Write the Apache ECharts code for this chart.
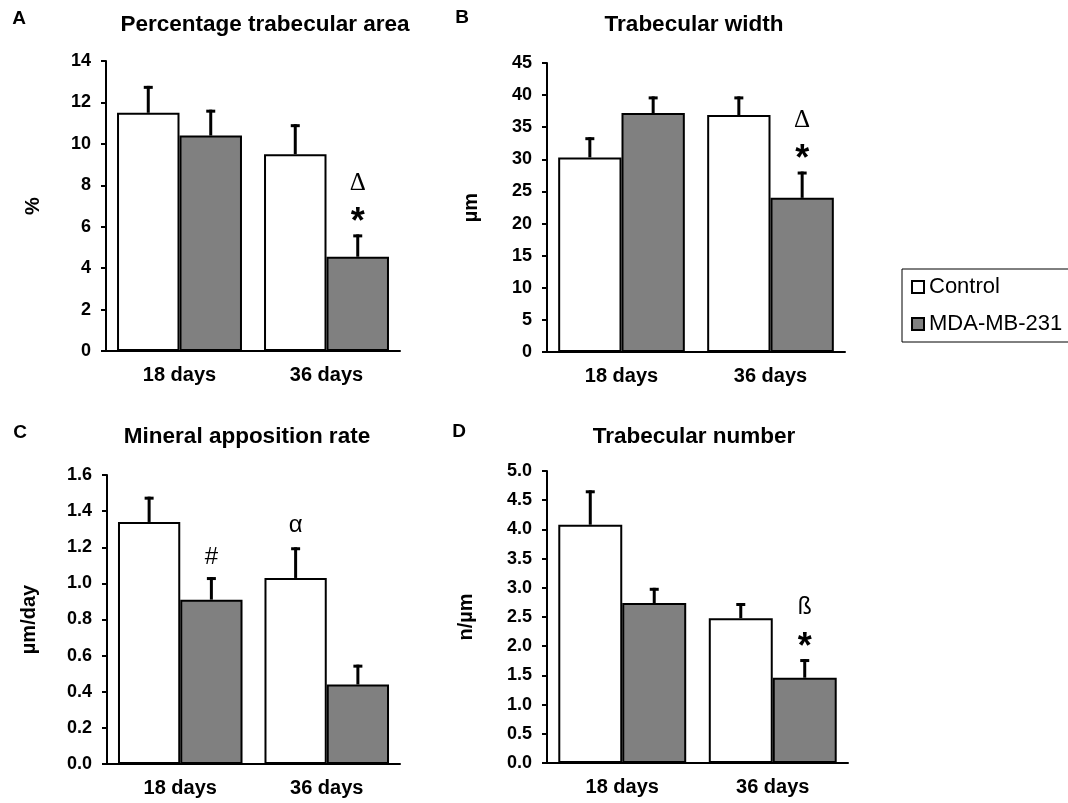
<!DOCTYPE html>
<html>
<head>
<meta charset="utf-8">
<script src="https://cdn.jsdelivr.net/npm/echarts@6/dist/echarts.min.js"></script>
<style>
  html, body { margin: 0; padding: 0; background: #fff; }
  #chart { width: 1068px; height: 803px; }
</style>
</head>
<body>
<div id="chart"></div>
<script>
// ---------- data ----------
const categories = ['18 days', '36 days'];
const seriesNames = ['Control', 'MDA-MB-231'];

// A: Percentage trabecular area (%)
const areaControl = [11.5, 9.5];
const areaControlSem = [1.3, 1.45];
const areaTumor = [10.4, 4.55];
const areaTumorSem = [1.25, 1.08];
const areaControlMarks = [[], []];
const areaTumorMarks = [[], ['*', 'Δ']];
const areaTicks = [0, 2, 4, 6, 8, 10, 12, 14];

// B: Trabecular width (µm)
const widthControl = [30.3, 36.9];
const widthControlSem = [3.15, 2.9];
const widthTumor = [37.2, 24.0];
const widthTumorSem = [2.6, 4.1];
const widthControlMarks = [[], []];
const widthTumorMarks = [[], ['*', 'Δ']];
const widthTicks = [0, 5, 10, 15, 20, 25, 30, 35, 40, 45];

// C: Mineral apposition rate (µm/day)
const marControl = [1.34, 1.03];
const marControlSem = [0.14, 0.17];
const marTumor = [0.91, 0.44];
const marTumorSem = [0.125, 0.11];
const marControlMarks = [[], ['α']];
const marTumorMarks = [['#'], []];
const marTicks = [0.0, 0.2, 0.4, 0.6, 0.8, 1.0, 1.2, 1.4, 1.6];

// D: Trabecular number (n/µm)
const numControl = [4.08, 2.48];
const numControlSem = [0.59, 0.26];
const numTumor = [2.74, 1.46];
const numTumorSem = [0.26, 0.32];
const numControlMarks = [[], []];
const numTumorMarks = [[], ['*', 'ß']];
const numTicks = [0.0, 0.5, 1.0, 1.5, 2.0, 2.5, 3.0, 3.5, 4.0, 4.5, 5.0];

// ---------- styling / layout ----------
const FONT = '"Liberation Sans", Arial, Helvetica, sans-serif';
const GREY = '#808080';
const CAT_GAP = 0.15;

const panels = [
  { letter: 'A', title: 'Percentage trabecular area', yName: '%', nameGap: 63,
    grid: { left: 106, top: 61, width: 294, height: 290 }, titleX: 265, titleY: 25, letterX: 19, letterY: 19,
    ctrl: areaControl, ctrlSem: areaControlSem, tum: areaTumor, tumSem: areaTumorSem,
    ctrlMarks: areaControlMarks, tumMarks: areaTumorMarks, ticks: areaTicks, decimals: 0 },
  { letter: 'B', title: 'Trabecular width', yName: 'µm', nameGap: 66,
    grid: { left: 547, top: 63, width: 298, height: 289 }, titleX: 694, titleY: 25, letterX: 462, letterY: 18,
    ctrl: widthControl, ctrlSem: widthControlSem, tum: widthTumor, tumSem: widthTumorSem,
    ctrlMarks: widthControlMarks, tumMarks: widthTumorMarks, ticks: widthTicks, decimals: 0 },
  { letter: 'C', title: 'Mineral apposition rate', yName: 'µm/day', nameGap: 68,
    grid: { left: 107, top: 475, width: 293, height: 289 }, titleX: 247, titleY: 437, letterX: 20, letterY: 433,
    ctrl: marControl, ctrlSem: marControlSem, tum: marTumor, tumSem: marTumorSem,
    ctrlMarks: marControlMarks, tumMarks: marTumorMarks, ticks: marTicks, decimals: 1 },
  { letter: 'D', title: 'Trabecular number', yName: 'n/µm', nameGap: 71,
    grid: { left: 547, top: 471, width: 301, height: 292 }, titleX: 694, titleY: 437, letterX: 459, letterY: 432,
    ctrl: numControl, ctrlSem: numControlSem, tum: numTumor, tumSem: numTumorSem,
    ctrlMarks: numControlMarks, tumMarks: numTumorMarks, ticks: numTicks, decimals: 1 }
];

const markFont = {
  '*': { font: 'bold 36px ' + FONT, nudge: 9 },
  'Δ': { font: '25px "Liberation Serif", "Times New Roman", serif', nudge: 0 },
  'α': { font: '24px ' + FONT, nudge: -2 },
  '#': { font: '24px ' + FONT, nudge: 0 },
  'ß': { font: '23px ' + FONT, nudge: 0 }
};
const markOffsets = [20, 51];

function errorSeries(gi, values, sems, marks, side) {
  return {
    type: 'custom',
    xAxisIndex: gi, yAxisIndex: gi, z: 5,
    silent: true,
    data: values.map((v, i) => [i, v, v + sems[i]]),
    renderItem: function (params, api) {
      const ci = api.value(0);
      const base = api.coord([ci, api.value(1)]);
      const top = api.coord([ci, api.value(2)]);
      const band = api.size([1, 0])[0];
      const x = base[0] + side * band * (1 - CAT_GAP) / 4;
      const children = [
        { type: 'line', shape: { x1: x, y1: base[1], x2: x, y2: top[1] }, style: { stroke: '#000', lineWidth: 3 } },
        { type: 'line', shape: { x1: x - 4.5, y1: top[1] + 1.5, x2: x + 4.5, y2: top[1] + 1.5 }, style: { stroke: '#000', lineWidth: 3 } }
      ];
      const m = marks[params.dataIndex] || [];
      m.forEach(function (ch, k) {
        const f = markFont[ch] || { font: '22px ' + FONT, nudge: 0 };
        children.push({
          type: 'text', x: x, y: top[1] - markOffsets[k] + f.nudge,
          style: { text: ch, font: f.font, fill: '#000', align: 'center', verticalAlign: 'middle' }
        });
      });
      return { type: 'group', children: children };
    }
  };
}

const grids = [], xAxes = [], yAxes = [], series = [], graphics = [];
panels.forEach(function (p, gi) {
  grids.push(Object.assign({ containLabel: false }, p.grid));
  xAxes.push({
    type: 'category', gridIndex: gi, data: categories,
    axisLine: { lineStyle: { color: '#000', width: 2 } },
    axisTick: { show: false },
    axisLabel: { color: '#000', fontFamily: FONT, fontWeight: 'bold', fontSize: 20, margin: 14 }
  });
  const t = p.ticks;
  yAxes.push({
    type: 'value', gridIndex: gi,
    min: t[0], max: t[t.length - 1], interval: t[1] - t[0],
    name: p.yName, nameLocation: 'middle', nameGap: p.nameGap,
    nameTextStyle: { color: '#000', fontFamily: FONT, fontWeight: 'bold', fontSize: 20 },
    axisLine: { show: true, lineStyle: { color: '#000', width: 2 } },
    axisTick: { show: true, length: 5, lineStyle: { color: '#000', width: 2 } },
    splitLine: { show: false },
    axisLabel: {
      color: '#000', fontFamily: FONT, fontWeight: 'bold', fontSize: 18, margin: 15,
      formatter: function (v) { return v.toFixed(p.decimals); }
    }
  });
  series.push({
    name: seriesNames[0], type: 'bar', xAxisIndex: gi, yAxisIndex: gi,
    data: p.ctrl, barGap: '0%', barCategoryGap: (CAT_GAP * 100) + '%',
    itemStyle: { color: '#fff', borderColor: '#000', borderWidth: 2 }
  });
  series.push({
    name: seriesNames[1], type: 'bar', xAxisIndex: gi, yAxisIndex: gi,
    data: p.tum, barGap: '0%', barCategoryGap: (CAT_GAP * 100) + '%',
    itemStyle: { color: GREY, borderColor: '#000', borderWidth: 2 }
  });
  series.push(errorSeries(gi, p.ctrl, p.ctrlSem, p.ctrlMarks, -1));
  series.push(errorSeries(gi, p.tum, p.tumSem, p.tumMarks, 1));
  graphics.push({
    type: 'text', x: p.titleX, y: p.titleY,
    style: { text: p.title, font: 'bold 22.5px ' + FONT, fill: '#000', align: 'center', verticalAlign: 'middle' }
  });
  graphics.push({
    type: 'text', x: p.letterX, y: p.letterY,
    style: { text: p.letter, font: 'bold 19px ' + FONT, fill: '#000', align: 'center', verticalAlign: 'middle' }
  });
});

const chart = echarts.init(document.getElementById('chart'), null, { renderer: 'canvas' });
chart.setOption({
  backgroundColor: '#fff',
  animation: false,
  grid: grids,
  xAxis: xAxes,
  yAxis: yAxes,
  series: series,
  graphic: graphics,
  legend: {
    data: seriesNames,
    orient: 'vertical',
    left: 902, top: 269,
    padding: [7, 9, 7, 9],
    itemGap: 15,
    itemWidth: 12, itemHeight: 12,
    icon: 'rect',
    itemStyle: { borderColor: '#000', borderWidth: 2 },
    borderColor: '#000', borderWidth: 1,
    textStyle: { color: '#000', fontFamily: FONT, fontSize: 22 },
    selectedMode: false
  }
});
</script>
</body>
</html>
